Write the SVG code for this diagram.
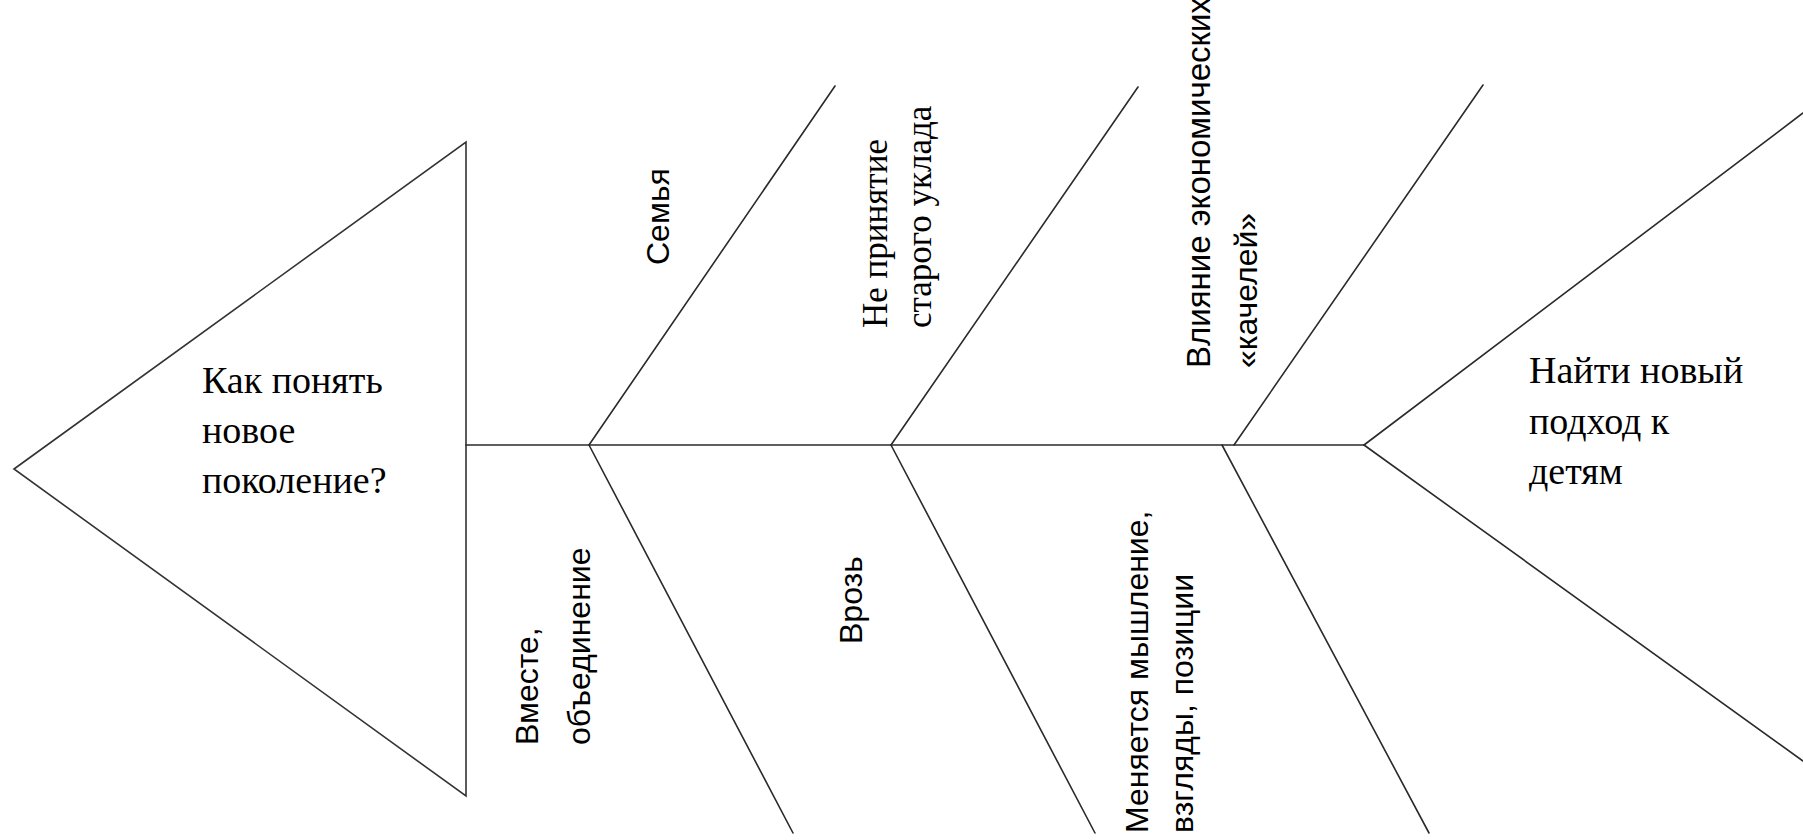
<svg xmlns="http://www.w3.org/2000/svg" width="1803" height="840" viewBox="0 0 1803 840">
<style>
.ln{stroke:#2a2a2a;stroke-width:1.6;fill:none;stroke-linecap:round}
</style>
<rect width="1803" height="840" fill="#fff"/>
<g id="head">
<polygon points="14,469 466,142 466,796" fill="#fff" stroke="#333" stroke-width="1.6"/>
<text x="202" y="393" font-size="38" font-family="Liberation Serif" fill="#000">Как понять</text>
<text x="202" y="443" font-size="38" font-family="Liberation Serif" fill="#000">новое</text>
<text x="202" y="493" font-size="38" font-family="Liberation Serif" fill="#000">поколение?</text>
</g>
<g id="connectors">
<line class="ln" x1="466" y1="445" x2="1364" y2="445" stroke-width="2"/>
<line class="ln" x1="589" y1="445" x2="835" y2="86"/>
<line class="ln" x1="589" y1="445" x2="793" y2="833"/>
<line class="ln" x1="891" y1="445" x2="1138" y2="87"/>
<line class="ln" x1="891" y1="445" x2="1095" y2="833"/>
<line class="ln" x1="1234" y1="445" x2="1483" y2="85"/>
<line class="ln" x1="1222" y1="445" x2="1429" y2="833"/>
<line class="ln" x1="1364" y1="445" x2="1803" y2="113"/>
<line class="ln" x1="1364" y1="445" x2="1803" y2="761"/>
</g>
<g id="tail">
<text x="1529" y="383" font-size="38" font-family="Liberation Serif" fill="#000">Найти новый</text>
<text x="1529" y="434" font-size="38" font-family="Liberation Serif" fill="#000">подход к</text>
<text x="1529" y="484" font-size="38" font-family="Liberation Serif" fill="#000">детям</text>
</g>
<g id="cause-semya">
<text transform="translate(669,265) rotate(-90)" font-size="32" font-family="Liberation Sans" fill="#000">Семья</text>
</g>
<g id="cause-ne-prinyatie">
<text transform="translate(887,328) rotate(-90)" font-size="35" font-family="Liberation Serif" fill="#000">Не принятие</text>
<text transform="translate(931,328) rotate(-90)" font-size="35" font-family="Liberation Serif" fill="#000">старого уклада</text>
</g>
<g id="cause-vliyanie">
<text transform="translate(1210,368) rotate(-90)" font-size="33" font-family="Liberation Sans" fill="#000">Влияние экономических</text>
<text transform="translate(1257,368) rotate(-90)" font-size="32" font-family="Liberation Sans" fill="#000">«качелей»</text>
</g>
<g id="cause-vmeste">
<text transform="translate(538,745) rotate(-90)" font-size="32" font-family="Liberation Sans" fill="#000">Вместе,</text>
<text transform="translate(590,745) rotate(-90)" font-size="32" font-family="Liberation Sans" fill="#000">объединение</text>
</g>
<g id="cause-vroz">
<text transform="translate(862,644) rotate(-90)" font-size="32" font-family="Liberation Sans" fill="#000">Врозь</text>
</g>
<g id="cause-menyaetsya">
<text transform="translate(1148,833) rotate(-90)" font-size="32" font-family="Liberation Sans" fill="#000">Меняется мышление,</text>
<text transform="translate(1193,833) rotate(-90)" font-size="32" font-family="Liberation Sans" fill="#000">взгляды, позиции</text>
</g>
</svg>
